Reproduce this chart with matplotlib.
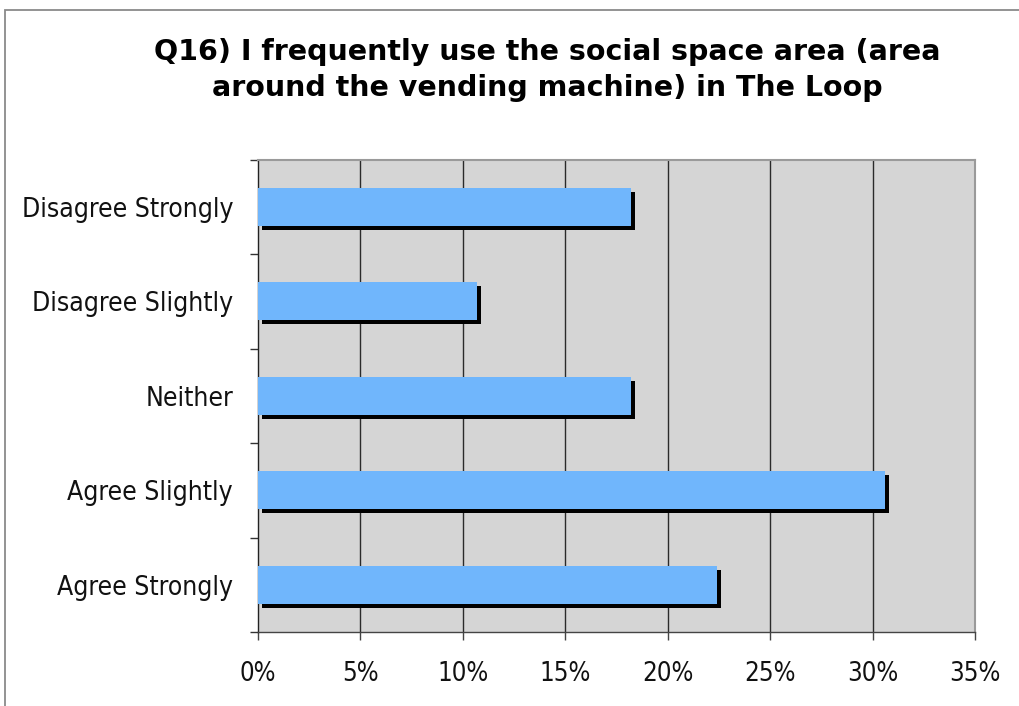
import matplotlib
matplotlib.use("Agg")
import matplotlib.pyplot as plt
import matplotlib.transforms as mtransforms
from matplotlib import font_manager as fm
from matplotlib.patches import Rectangle
from matplotlib.ticker import FixedLocator, FuncFormatter

# Survey responses (percent of respondents)
categories = ["Disagree Strongly", "Disagree Slightly", "Neither",
              "Agree Slightly", "Agree Strongly"]
percentages = [18.2, 10.7, 18.2, 30.6, 22.4]
x_ticks = [0, 5, 10, 15, 20, 25, 30, 35]
title = "Q16) I frequently use the social space area (area\naround the vending machine) in The Loop"

# Use the condensed DejaVu face for axis labels when it is installed
has_condensed = any("DejaVuSansCondensed.ttf" in f.fname for f in fm.fontManager.ttflist)
if has_condensed:
    label_font = fm.FontProperties(family="DejaVu Sans", stretch="condensed")
    ylab_size, xlab_size = 19, 18.5
else:
    label_font = fm.FontProperties(family="DejaVu Sans")
    ylab_size, xlab_size = 17, 17.5

W, H, DPI = 1019, 706, 100
fig = plt.figure(figsize=(W / DPI, H / DPI), dpi=DPI)
fig.patch.set_facecolor("white")

# Outer chart frame (runs off the right and bottom edges)
fig.add_artist(Rectangle((5 / W, -0.05), 1.2, 1 - 10 / H + 0.05,
                         transform=fig.transFigure, fill=False,
                         edgecolor="#8a8a8a", linewidth=1.3))

ax = fig.add_axes([258 / W, 1 - 632 / H, (975 - 258) / W, (632 - 159.5) / H])
ax.set_facecolor("#d5d5d5")

n = len(categories)
ypos = list(range(n))[::-1]  # first category at the top
bar_h = 0.40

# Drop shadow drawn from the same values, shifted a few pixels right/down
shadow_tf = mtransforms.offset_copy(ax.transData, fig=fig, x=4, y=-4, units="dots")
ax.barh(ypos, percentages, height=bar_h, color="black", transform=shadow_tf, zorder=3)
ax.barh(ypos, percentages, height=bar_h, color="#70b6fc", zorder=4)

ax.set_xlim(0, 35)
ax.set_ylim(-0.5, n - 0.5)

# Vertical gridlines
for xv in x_ticks[1:-1]:
    ax.axvline(xv, color="#2a2a2a", linewidth=1.0, zorder=2)

ax.set_xticks(x_ticks)
ax.xaxis.set_major_formatter(FuncFormatter(lambda v, p: f"{int(v)}%"))
ax.tick_params(axis="x", direction="out", length=6, width=1, color="#444444",
               pad=15, labelcolor="#111111")
for lbl in ax.get_xticklabels():
    lbl.set_fontproperties(label_font)
    lbl.set_fontsize(xlab_size)

ax.set_yticks(ypos)
ax.set_yticklabels(categories)
ax.yaxis.set_minor_locator(FixedLocator([i - 0.5 for i in range(n + 1)]))
ax.tick_params(axis="y", which="major", length=0, pad=18, labelcolor="#111111")
ax.tick_params(axis="y", which="minor", direction="out", length=6, width=1, color="#333333")
for lbl in ax.get_yticklabels():
    lbl.set_fontproperties(label_font)
    lbl.set_fontsize(ylab_size)

for side in ["top", "right"]:
    ax.spines[side].set_color("#9a9a9a")
    ax.spines[side].set_linewidth(1.5)
ax.spines["left"].set_color("#222222")
ax.spines["left"].set_linewidth(1.0)
ax.spines["bottom"].set_color("#444444")
ax.spines["bottom"].set_linewidth(1.0)

fig.text(547 / W, 1 - 70 / H, title, ha="center", va="center",
         fontsize=20.5, fontweight="bold", linespacing=1.36)

fig.savefig("out.png", dpi=DPI)
